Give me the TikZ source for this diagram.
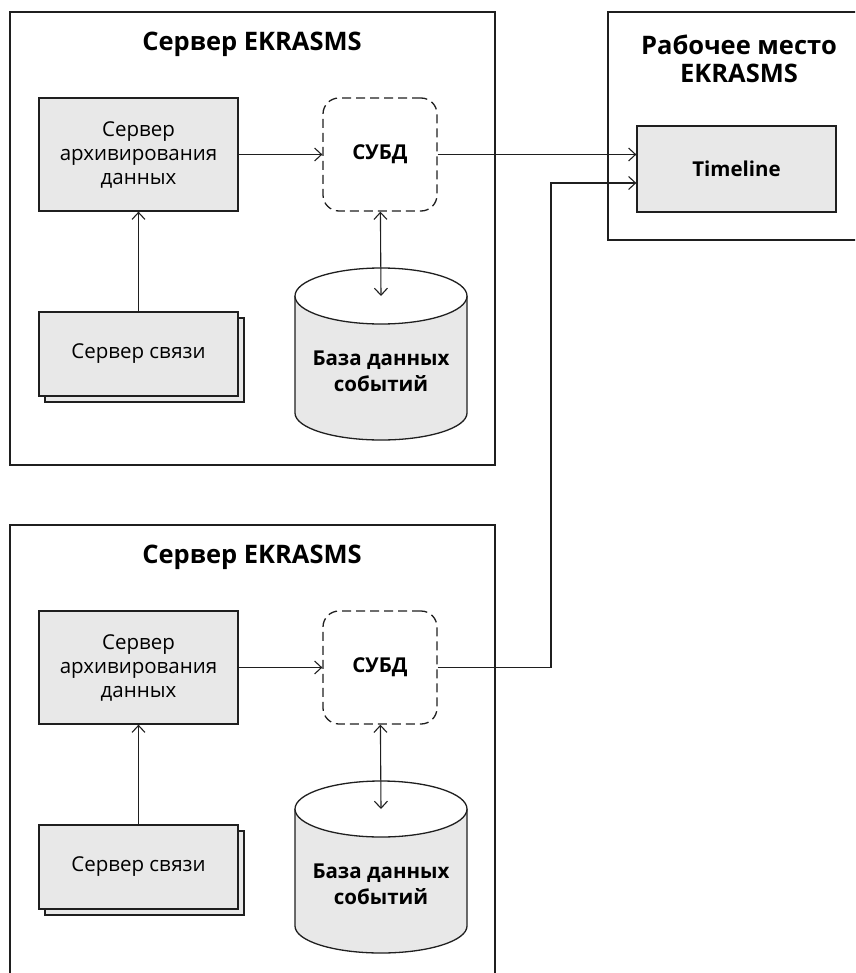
\documentclass[tikz,border=0pt]{standalone}
\usepackage{fontspec}
\setmainfont{Open Sans}
\usetikzlibrary{arrows.meta,positioning}
\definecolor{ink}{HTML}{1F1F1F}
\definecolor{panel}{HTML}{E8E8E8}

\begin{document}
\begin{tikzpicture}[x=1pt,y=1pt,
    frame/.style={draw=ink,line width=1.3pt},
    unitbox/.style={draw=ink,fill=panel,line width=1.3pt,minimum width=199pt,align=center,font=\fontsize{20.5}{24}\selectfont},
    dbmsbox/.style={draw=ink,line width=1.3pt,dash pattern=on 9pt off 5pt,rounded corners=16pt,minimum width=114pt,minimum height=113pt,font=\bfseries\fontsize{20.5}{24}\selectfont},
    title/.style={font=\bfseries\fontsize{25.5}{28}\selectfont,align=center},
    link/.style={draw=ink,line width=1.1pt,-{Straight Barb[length=7pt,width=13pt]}}]
  \useasboundingbox (0,0) rectangle (855,-973);
  \clip (0,0) rectangle (855,-973);
  \foreach \s/\dy/\low in {A/0/465,B/513/1000}{
    \begin{scope}[yshift=-\dy pt]
      \draw[frame] (10,-12) rectangle (495,-\low);
      \node[title] (title\s) at (252,-44) {Сервер EKRASMS};
      \node[unitbox,minimum height=113pt] (arch\s) at (138.5,-154.5) {Сервер\\архивирования\\данных};
      \node[dbmsbox] (dbms\s) at (380,-154.5) {СУБД};
      \node[unitbox,minimum height=84pt] (commback\s) at (144.5,-360) {};
      \node[unitbox,minimum height=84pt] (comm\s) at (138.5,-354) {Сервер связи};
      \fill[panel] (295,-296) -- (295,-413) arc[start angle=180,end angle=360,x radius=86,y radius=27] -- (467,-296) arc[start angle=0,end angle=-180,x radius=86,y radius=28] -- cycle;
      \draw[ink,line width=1.3pt] (295,-296) -- (295,-413) arc[start angle=180,end angle=360,x radius=86,y radius=27] -- (467,-296);
      \draw[ink,fill=white,line width=1.3pt] (381,-296) ellipse (86 and 28);
      \coordinate (dbtop\s) at (381,-296);
      \node[font=\bfseries\fontsize{20.5}{26}\selectfont,align=center] (db\s) at (381,-371) {База данных\\событий};
      \draw[link] (comm\s) -- (arch\s);
      \draw[link] (arch\s) -- (dbms\s);
      \draw[link,{Straight Barb[length=7pt,width=13pt]}-{Straight Barb[length=7pt,width=13pt]}] (dbms\s) -- (dbtop\s);
    \end{scope}}
  \draw[frame] (608,-12) rectangle (880,-240);
  \node[title] (titleW) at (739,-59) {Рабочее место\\EKRASMS};
  \node[unitbox,minimum height=86pt,font=\bfseries\fontsize{20.5}{24}\selectfont] (timeline) at (736.5,-169) {Timeline};
  \coordinate (bend) at (551,-667.5);
  \draw[link] (dbmsA.east) -- (dbmsA.east -| timeline.west);
  \draw[link] (dbmsB.east) -- (bend) |- ([yshift=-14pt]timeline.west);
\end{tikzpicture}
\end{document}
